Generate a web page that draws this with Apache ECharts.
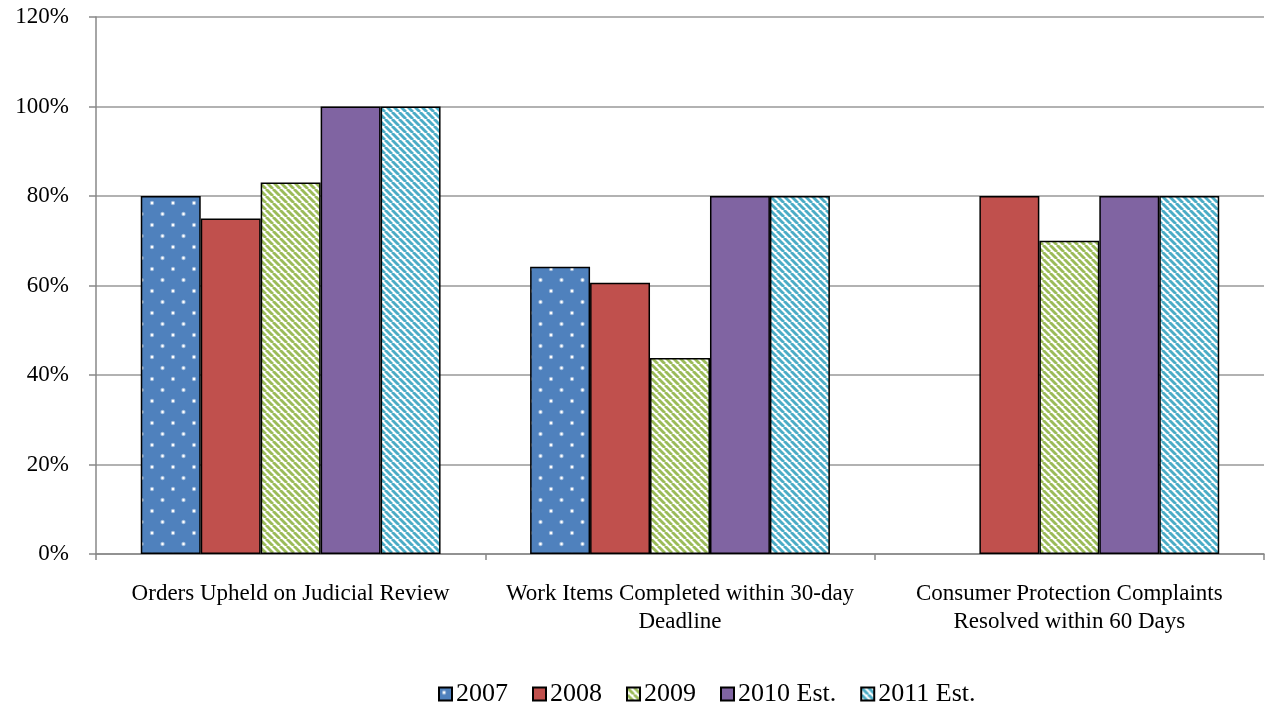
<!DOCTYPE html>
<html><head><meta charset="utf-8">
<script src="https://cdn.jsdelivr.net/npm/echarts@6/dist/echarts.min.js"></script>
<style>html,body{margin:0;padding:0;background:#fff}#c{width:1269px;height:706px}</style>
</head><body><div id="c"></div>
<script>
const categories = ['Orders Upheld on Judicial Review', 'Work Items Completed within 30-day\nDeadline', 'Consumer Protection Complaints\nResolved within 60 Days'];
const seriesNames = ['2007', '2008', '2009', '2010 Est.', '2011 Est.'];
const v2007 = [80, 64.2, null];
const v2008 = [75, 60.6, 80];
const v2009 = [83, 43.8, 70];
const v2010 = [100, 80, 80];
const v2011 = [100, 80, 80];
const yTicks = [0, 20, 40, 60, 80, 100, 120];

function dots(bg) {
  const w = 21, h = 22; const c = document.createElement('canvas'); c.width = w; c.height = h;
  const g = c.getContext('2d'); g.fillStyle = bg; g.fillRect(0, 0, w, h);
  [[5, 5], [15.5, 16]].forEach(p => {
    g.fillStyle = 'rgba(255,255,255,0.45)'; g.beginPath(); g.arc(p[0], p[1], 2.2, 0, Math.PI * 2); g.fill();
    g.fillStyle = '#fff'; g.beginPath(); g.arc(p[0], p[1], 1.2, 0, Math.PI * 2); g.fill();
  });
  return { image: c, repeat: 'repeat' };
}
function stripes(fg) {
  const s = 7; const c = document.createElement('canvas'); c.width = s; c.height = s;
  const g = c.getContext('2d'); g.fillStyle = '#fff'; g.fillRect(0, 0, s, s);
  g.strokeStyle = fg; g.lineWidth = 2.9;
  [[-s, 0], [0, 0], [s, 0]].forEach(o => { g.beginPath(); g.moveTo(o[0], 0); g.lineTo(o[0] + s, s); g.stroke(); });
  return { image: c, repeat: 'repeat' };
}
const fills = [dots('#4F81BD'), '#C0504D', stripes('#9BBB59'), '#8064A2', stripes('#4BACC6')];
const data = [v2007, v2008, v2009, v2010, v2011];
const font = '"Liberation Serif", "Times New Roman", serif';

const chart = echarts.init(document.getElementById('c'));
chart.setOption({
  animation: false,
  grid: { left: 96, right: 5, top: 17, bottom: 152 },
  legend: {
    top: 676, left: 433, itemWidth: 13, itemHeight: 13, itemGap: 24,
    textStyle: { fontFamily: font, fontSize: 26, color: '#000', padding: [0, 0, 0, -1] },
    data: seriesNames.map(n => ({ name: n, icon: 'rect' }))
  },
  xAxis: {
    type: 'category', data: categories,
    axisLine: { lineStyle: { color: '#888', width: 1.5 } },
    axisTick: { show: true, length: 6, lineStyle: { color: '#888', width: 1.5 } },
    axisLabel: { fontFamily: font, fontSize: 23, color: '#000', margin: 26, lineHeight: 28, interval: 0 }
  },
  yAxis: {
    type: 'value', min: 0, max: 120, interval: 20,
    axisLine: { show: true, lineStyle: { color: '#888', width: 1.5 } },
    axisTick: { show: true, length: 7, lineStyle: { color: '#888', width: 1.5 } },
    splitLine: { lineStyle: { color: '#999', width: 1.5 } },
    axisLabel: { fontFamily: font, fontSize: 23, color: '#000', margin: 27, padding: [7, 0, 0, 0], formatter: v => v + '%' }
  },
  series: data.map((d, i) => ({
    name: seriesNames[i], type: 'bar', data: d, barGap: '0%', barCategoryGap: '23%',
    itemStyle: { color: fills[i], borderColor: '#000', borderWidth: 1.5 }
  }))
});
</script></body></html>
